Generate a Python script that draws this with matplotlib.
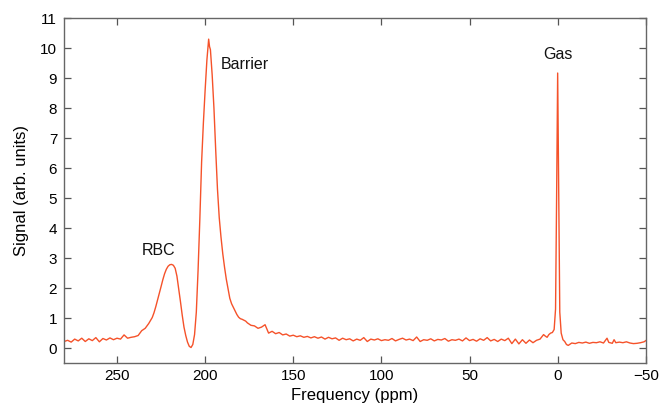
"""
Xe-129 MR spectrum (RBC / Barrier / Gas) redrawn from the reference figure.
Output: out.png (661x403)
"""

import matplotlib
matplotlib.use("Agg")
import matplotlib.pyplot as plt

# ---- data ----
# baseline left of RBC
ppm_left = [280, 278, 276, 274, 272, 270, 268, 266, 264, 262, 260, 258, 256, 254,
            252, 250, 248, 246, 244, 242, 240, 238, 236, 234]
sig_left = [0.22, 0.26, 0.20, 0.30, 0.24, 0.33, 0.22, 0.31, 0.25, 0.35, 0.21, 0.32,
            0.27, 0.34, 0.28, 0.33, 0.30, 0.44, 0.33, 0.36, 0.38, 0.42, 0.58, 0.66]

# RBC + Barrier peaks
ppm_peaks = [232, 230, 229, 228, 227, 226, 225, 224, 223, 222, 221, 220, 219, 218,
             217, 216, 215, 214, 213, 212, 211, 210, 209, 208, 207, 206, 205, 204,
             203, 202, 201, 200, 199, 198, 197.5, 197, 196, 195, 194, 193, 192, 191,
             190, 189, 188, 187, 186, 185, 184, 183, 182, 181, 180, 179, 178, 177, 176]
sig_peaks = [0.82, 1.02, 1.18, 1.38, 1.60, 1.82, 2.05, 2.28, 2.48, 2.63, 2.73, 2.78,
             2.79, 2.76, 2.66, 2.40, 1.98, 1.55, 1.10, 0.70, 0.42, 0.20, 0.06, 0.02,
             0.12, 0.45, 1.20, 2.60, 4.30, 6.20, 7.50, 8.60, 9.60, 10.30, 10.05, 9.95,
             9.10, 8.00, 6.60, 5.30, 4.35, 3.70, 3.15, 2.70, 2.30, 1.98, 1.66, 1.48,
             1.36, 1.24, 1.12, 1.03, 0.98, 0.96, 0.93, 0.90, 0.84]

# barrier tail and baseline up to the gas peak
ppm_mid = [174, 172, 170, 168, 166, 164, 162, 160, 158, 156, 154, 152, 150, 148,
           146, 144, 142, 140, 138, 136, 134, 132, 130, 128, 126, 124, 122, 120,
           118, 116, 114, 112, 110, 108, 106, 104, 102, 100, 98, 96, 94, 92, 90,
           88, 86, 84, 82, 80, 78, 76, 74, 72, 70, 68, 66, 64, 62, 60, 58, 56, 54,
           52, 50, 48, 46, 44, 42, 40, 38, 36, 34, 32, 30, 28, 26, 24, 22, 20, 18,
           16, 14, 12, 10, 8, 7, 6, 5, 4, 3, 2]
sig_mid = [0.76, 0.74, 0.66, 0.70, 0.78, 0.50, 0.56, 0.48, 0.52, 0.44, 0.47, 0.40,
           0.43, 0.38, 0.41, 0.36, 0.39, 0.34, 0.38, 0.33, 0.37, 0.30, 0.36, 0.31,
           0.34, 0.26, 0.33, 0.28, 0.31, 0.24, 0.30, 0.26, 0.35, 0.22, 0.30, 0.27,
           0.31, 0.25, 0.28, 0.26, 0.32, 0.24, 0.29, 0.33, 0.27, 0.30, 0.25, 0.37,
           0.22, 0.28, 0.26, 0.31, 0.24, 0.29, 0.27, 0.32, 0.23, 0.28, 0.26, 0.30,
           0.24, 0.34, 0.25, 0.29, 0.23, 0.31, 0.26, 0.35, 0.24, 0.29, 0.22, 0.30,
           0.25, 0.33, 0.15, 0.30, 0.14, 0.28, 0.16, 0.27, 0.18, 0.26, 0.30, 0.45,
           0.40, 0.36, 0.45, 0.50, 0.52, 0.62]

# gas peak and right baseline
ppm_gas = [1.2, 0.6, 0, -0.6, -1.2, -2, -3, -4, -5, -6, -7, -8, -10, -12, -14, -16,
           -18, -20, -22, -24, -26, -28, -29, -31, -32, -33, -35, -37, -39, -41,
           -43, -45, -47, -49, -50]
sig_gas = [1.30, 5.00, 9.17, 5.00, 1.20, 0.50, 0.28, 0.22, 0.12, 0.09, 0.13, 0.17,
           0.15, 0.19, 0.17, 0.20, 0.16, 0.19, 0.18, 0.21, 0.17, 0.33, 0.19, 0.16,
           0.28, 0.18, 0.20, 0.18, 0.21, 0.17, 0.15, 0.16, 0.18, 0.21, 0.25]

peak_names = ["RBC", "Barrier", "Gas"]
peak_label_x = [226.5, 177.5, 0]
peak_label_y = [3.25, 9.45, 9.8]

x_ticks = [250, 200, 150, 100, 50, 0, -50]
y_ticks = list(range(0, 12))

LINE_COLOR = "#f5522a"
plt.rcParams["font.family"] = ["Liberation Sans", "DejaVu Sans"]


def main():
    ppm = ppm_left + ppm_peaks + ppm_mid + ppm_gas
    sig = sig_left + sig_peaks + sig_mid + sig_gas

    fig = plt.figure(figsize=(6.61, 4.03), dpi=100)
    ax = fig.add_axes([0.097, 0.099, 0.880, 0.856])

    ax.plot(ppm, sig, color=LINE_COLOR, lw=1.0)

    for name, x, y in zip(peak_names, peak_label_x, peak_label_y):
        ax.text(x, y, name, ha="center", va="center", fontsize=11.5, color="#111111")

    ax.set_xlim(280, -50)
    ax.set_ylim(-0.5, 11)
    ax.set_xticks(x_ticks)
    ax.set_yticks(y_ticks)
    ax.tick_params(direction="in", top=True, right=True, length=5, width=0.9,
                   color="#555555", labelsize=11, pad=5)
    ax.tick_params(axis="x", pad=4)
    for s in ax.spines.values():
        s.set_color("#666666")
        s.set_linewidth(1.0)

    ax.set_xlabel("Frequency (ppm)", fontsize=12, labelpad=4)
    ax.set_ylabel("Signal (arb. units)", fontsize=12, labelpad=8)

    fig.savefig("out.png", dpi=100)
    plt.close(fig)


if __name__ == "__main__":
    main()
